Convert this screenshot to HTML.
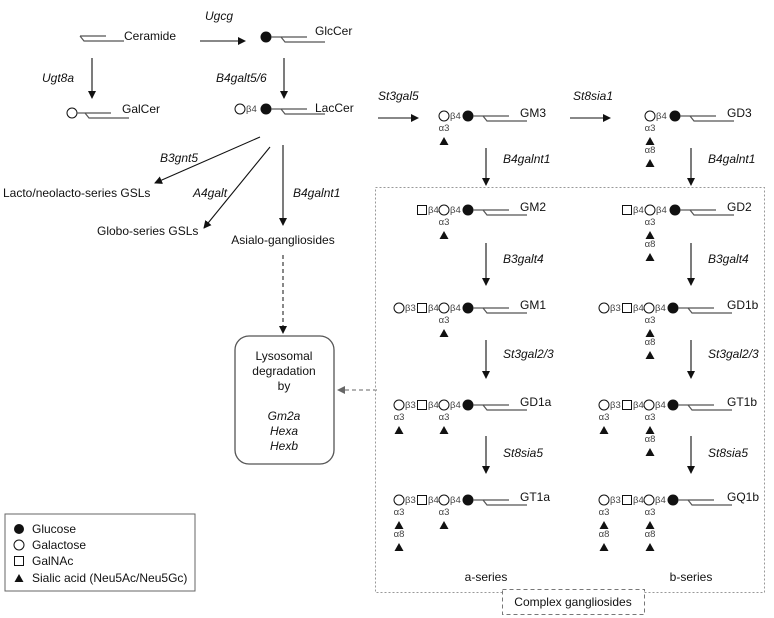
<!DOCTYPE html>
<html><head><meta charset="utf-8"><style>
html,body{margin:0;padding:0;background:#fff;}
svg{display:block;font-family:"Liberation Sans",sans-serif;}
.t{font-size:12px;fill:#111;}
.i{font-size:12px;fill:#111;font-style:italic;}
.g{font-size:9.5px;fill:#444;}
.l{stroke:#111;stroke-width:1.1;fill:none;}
.c{stroke:#555;stroke-width:1.2;fill:none;}
</style></head><body>
<svg width="774" height="618" viewBox="0 0 774 618" xmlns="http://www.w3.org/2000/svg">
<defs>
<marker id="a" markerWidth="8" markerHeight="8" refX="7" refY="4" orient="auto" markerUnits="userSpaceOnUse"><path d="M0 0L8 4L0 8z" fill="#111"/></marker>
<marker id="ag" markerWidth="8" markerHeight="8" refX="7" refY="4" orient="auto" markerUnits="userSpaceOnUse"><path d="M0 0L8 4L0 8z" fill="#666"/></marker>
<g id="cer"><path class="c" d="M0 0H26M0 0L4 5H44"/></g>
<g id="glc"><circle cx="0" cy="0" r="5.5" fill="#111"/><path class="c" d="M5 0H15"/><use href="#cer" x="15" y="0"/></g>
<path id="tri" d="M-4.5 4L0 -4L4.5 4z" fill="#111"/>
</defs>

<use href="#cer" x="80" y="36"/>
<text class="t" x="124" y="40">Ceramide</text>
<text class="i" x="205" y="20">Ugcg</text>
<line class="l" x1="200" y1="41" x2="245" y2="41" marker-end="url(#a)"/>
<use href="#glc" x="266" y="37"/>
<text class="t" x="315" y="35">GlcCer</text>

<line class="l" x1="92" y1="58" x2="92" y2="98" marker-end="url(#a)"/>
<text class="i" x="42" y="82">Ugt8a</text>
<circle cx="72" cy="113" r="5" fill="#fff" stroke="#111"/>
<path class="c" d="M77 113H85"/><use href="#cer" x="85" y="113"/>
<text class="t" x="122" y="113">GalCer</text>

<line class="l" x1="284" y1="58" x2="284" y2="98" marker-end="url(#a)"/>
<text class="i" x="216" y="82">B4galt5/6</text>
<circle cx="240" cy="109" r="5" fill="#fff" stroke="#111"/>
<text class="g" x="246" y="112">β4</text>
<use href="#glc" x="266" y="109"/>
<text class="t" x="315" y="112">LacCer</text>

<line class="l" x1="260" y1="137" x2="155" y2="183" marker-end="url(#a)"/>
<text class="i" x="160" y="162">B3gnt5</text>
<text class="t" x="3" y="197">Lacto/neolacto-series GSLs</text>
<line class="l" x1="270" y1="147" x2="204" y2="228" marker-end="url(#a)"/>
<text class="i" x="193" y="197">A4galt</text>
<text class="t" x="97" y="235">Globo-series GSLs</text>
<line class="l" x1="283" y1="145" x2="283" y2="225" marker-end="url(#a)"/>
<text class="i" x="293" y="197">B4galnt1</text>
<text class="t" x="283" y="244" text-anchor="middle">Asialo-gangliosides</text>
<line x1="283" y1="255" x2="283" y2="333" stroke="#111" stroke-width="1" stroke-dasharray="4,3" marker-end="url(#a)"/>

<rect x="235" y="336" width="99" height="128" rx="14" fill="#fff" stroke="#555" stroke-width="1.3"/>
<g text-anchor="middle">
<text class="t" x="284" y="360">Lysosomal</text>
<text class="t" x="284" y="375">degradation</text>
<text class="t" x="284" y="390">by</text>
<text class="i" x="284" y="420">Gm2a</text>
<text class="i" x="284" y="435">Hexa</text>
<text class="i" x="284" y="450">Hexb</text>
</g>
<line x1="377" y1="390" x2="338" y2="390" stroke="#666" stroke-width="1" stroke-dasharray="4,3" marker-end="url(#ag)"/>

<rect x="5" y="514" width="190" height="77" fill="#fff" stroke="#666" stroke-width="1"/>
<circle cx="19" cy="529" r="5" fill="#111"/>
<text class="t" x="32" y="533">Glucose</text>
<circle cx="19" cy="545" r="5" fill="#fff" stroke="#111"/>
<text class="t" x="32" y="549">Galactose</text>
<rect x="14.5" y="556.5" width="9" height="9" fill="#fff" stroke="#111"/>
<text class="t" x="32" y="565">GalNAc</text>
<use href="#tri" x="19" y="578"/>
<text class="t" x="32" y="582">Sialic acid (Neu5Ac/Neu5Gc)</text>

<line class="l" x1="378" y1="118" x2="418" y2="118" marker-end="url(#a)"/>
<text class="i" x="378" y="100">St3gal5</text>
<line class="l" x1="570" y1="118" x2="610" y2="118" marker-end="url(#a)"/>
<text class="i" x="573" y="100">St8sia1</text>

<rect x="375.5" y="187.5" width="389" height="405" fill="none" stroke="#999" stroke-width="1" stroke-dasharray="2,2"/>
<rect x="502.5" y="589.5" width="142" height="25" fill="#fff" stroke="#777" stroke-width="1" stroke-dasharray="4,3"/>
<text class="t" x="573" y="606" text-anchor="middle">Complex gangliosides</text>
<text class="t" x="486" y="581" text-anchor="middle">a-series</text>
<text class="t" x="691" y="581" text-anchor="middle">b-series</text>

<g>
<line class="l" x1="486" y1="148" x2="486" y2="185" marker-end="url(#a)"/>
<line class="l" x1="691" y1="148" x2="691" y2="185" marker-end="url(#a)"/>
<text class="i" x="503" y="163">B4galnt1</text><text class="i" x="708" y="163">B4galnt1</text>
<line class="l" x1="486" y1="243" x2="486" y2="285" marker-end="url(#a)"/>
<line class="l" x1="691" y1="243" x2="691" y2="285" marker-end="url(#a)"/>
<text class="i" x="503" y="263">B3galt4</text><text class="i" x="708" y="263">B3galt4</text>
<line class="l" x1="486" y1="340" x2="486" y2="378" marker-end="url(#a)"/>
<line class="l" x1="691" y1="340" x2="691" y2="378" marker-end="url(#a)"/>
<text class="i" x="503" y="358">St3gal2/3</text><text class="i" x="708" y="358">St3gal2/3</text>
<line class="l" x1="486" y1="436" x2="486" y2="473" marker-end="url(#a)"/>
<line class="l" x1="691" y1="436" x2="691" y2="473" marker-end="url(#a)"/>
<text class="i" x="503" y="457">St8sia5</text><text class="i" x="708" y="457">St8sia5</text>
</g>

<circle cx="444" cy="116" r="5" fill="#fff" stroke="#111"/><text class="g" x="450" y="119">β4</text>
<use href="#glc" x="468" y="116"/><text class="t" x="520" y="117">GM3</text>
<text class="g" x="444" y="131" text-anchor="middle">α3</text><use href="#tri" x="444" y="141"/>
<circle cx="650" cy="116" r="5" fill="#fff" stroke="#111"/><text class="g" x="656" y="119">β4</text>
<use href="#glc" x="675" y="116"/><text class="t" x="727" y="117">GD3</text>
<text class="g" x="650" y="131" text-anchor="middle">α3</text><use href="#tri" x="650" y="141"/>
<text class="g" x="650" y="153" text-anchor="middle">α8</text><use href="#tri" x="650" y="163"/>

<rect x="417.5" y="205.5" width="9" height="9" fill="#fff" stroke="#111"/><text class="g" x="428" y="213">β4</text>
<circle cx="444" cy="210" r="5" fill="#fff" stroke="#111"/><text class="g" x="450" y="213">β4</text>
<use href="#glc" x="468" y="210"/><text class="t" x="520" y="211">GM2</text>
<text class="g" x="444" y="225" text-anchor="middle">α3</text><use href="#tri" x="444" y="235"/>
<rect x="622.5" y="205.5" width="9" height="9" fill="#fff" stroke="#111"/><text class="g" x="633" y="213">β4</text>
<circle cx="650" cy="210" r="5" fill="#fff" stroke="#111"/><text class="g" x="656" y="213">β4</text>
<use href="#glc" x="675" y="210"/><text class="t" x="727" y="211">GD2</text>
<text class="g" x="650" y="225" text-anchor="middle">α3</text><use href="#tri" x="650" y="235"/>
<text class="g" x="650" y="247" text-anchor="middle">α8</text><use href="#tri" x="650" y="257"/>

<g id="ch1">
<circle cx="399" cy="308" r="5" fill="#fff" stroke="#111"/><text class="g" x="405" y="311">β3</text>
<rect x="417.5" y="303.5" width="9" height="9" fill="#fff" stroke="#111"/><text class="g" x="428" y="311">β4</text>
<circle cx="444" cy="308" r="5" fill="#fff" stroke="#111"/><text class="g" x="450" y="311">β4</text>
<use href="#glc" x="468" y="308"/>
</g>
<text class="t" x="520" y="309">GM1</text>
<text class="g" x="444" y="323" text-anchor="middle">α3</text><use href="#tri" x="444" y="333"/>

<use href="#ch1" x="205" y="0"/>
<text class="t" x="727" y="309">GD1b</text>
<text class="g" x="650" y="323" text-anchor="middle">α3</text><use href="#tri" x="650" y="333"/>
<text class="g" x="650" y="345" text-anchor="middle">α8</text><use href="#tri" x="650" y="355"/>

<use href="#ch1" x="0" y="97"/>
<text class="t" x="520" y="406">GD1a</text>
<text class="g" x="399" y="420" text-anchor="middle">α3</text><use href="#tri" x="399" y="430"/>
<text class="g" x="444" y="420" text-anchor="middle">α3</text><use href="#tri" x="444" y="430"/>
<use href="#ch1" x="205" y="97"/>
<text class="t" x="727" y="406">GT1b</text>
<text class="g" x="604" y="420" text-anchor="middle">α3</text><use href="#tri" x="604" y="430"/>
<text class="g" x="650" y="420" text-anchor="middle">α3</text><use href="#tri" x="650" y="430"/>
<text class="g" x="650" y="442" text-anchor="middle">α8</text><use href="#tri" x="650" y="452"/>

<use href="#ch1" x="0" y="192"/>
<text class="t" x="520" y="501">GT1a</text>
<text class="g" x="399" y="515" text-anchor="middle">α3</text><use href="#tri" x="399" y="525"/>
<text class="g" x="399" y="537" text-anchor="middle">α8</text><use href="#tri" x="399" y="547"/>
<text class="g" x="444" y="515" text-anchor="middle">α3</text><use href="#tri" x="444" y="525"/>
<use href="#ch1" x="205" y="192"/>
<text class="t" x="727" y="501">GQ1b</text>
<text class="g" x="604" y="515" text-anchor="middle">α3</text><use href="#tri" x="604" y="525"/>
<text class="g" x="604" y="537" text-anchor="middle">α8</text><use href="#tri" x="604" y="547"/>
<text class="g" x="650" y="515" text-anchor="middle">α3</text><use href="#tri" x="650" y="525"/>
<text class="g" x="650" y="537" text-anchor="middle">α8</text><use href="#tri" x="650" y="547"/>
</svg>
</body></html>
